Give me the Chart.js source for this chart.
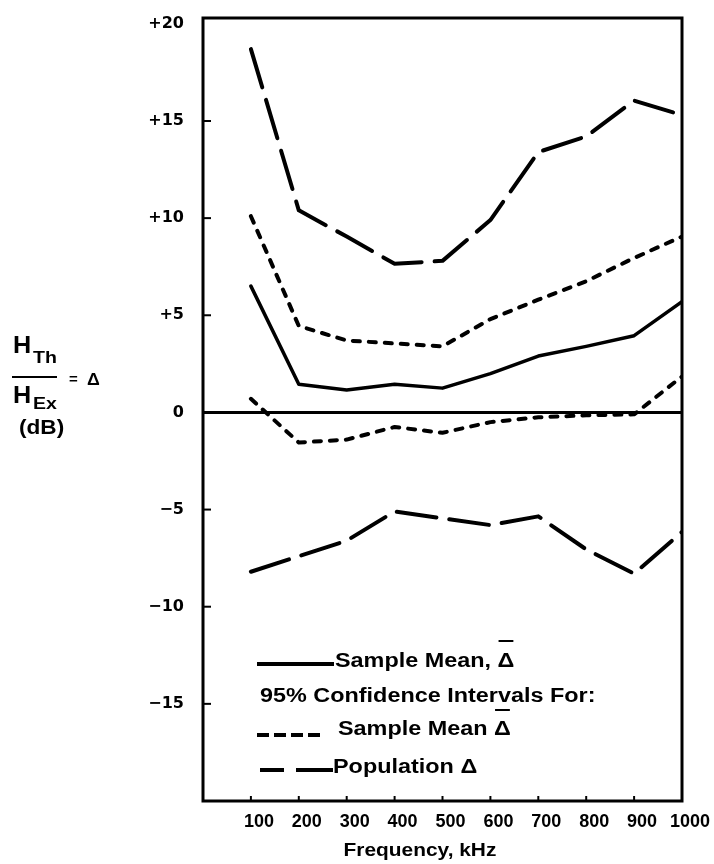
<!DOCTYPE html>
<html>
<head>
<meta charset="utf-8">
<title>Frequency, kHz</title>
<script src="https://cdn.jsdelivr.net/npm/chart.js@4.4.1/dist/chart.umd.min.js"></script>
<style>
    body { margin: 0; background: #fff; }
    canvas { display: block; }
</style>
</head>
<body>
<canvas id="graficoLinhas" width="714" height="864"></canvas>
<script>
//frequencias (kHz)
const frequencias = [100, 200, 300, 400, 500, 600, 700, 800, 900, 1000];

//media amostral
const mediaAmostral = [6.5, 1.45, 1.15, 1.45, 1.25, 2.0, 2.9, 3.4, 3.95, 5.7];

//intervalo 95% da media
const mediaSup = [10.1, 4.45, 3.7, 3.55, 3.4, 4.8, 5.8, 6.75, 7.95, 9.05];
const mediaInf = [0.7, -1.55, -1.4, -0.75, -1.05, -0.5, -0.25, -0.15, -0.1, 1.85];

//intervalo 95% da populacao
const populacaoSup = [18.7, 10.4, 9.05, 7.65, 7.8, 9.9, 13.4, 14.2, 16.05, 15.3];
const populacaoInf = [-8.2, -7.4, -6.6, -5.1, -5.45, -5.8, -5.35, -7.05, -8.3, -6.15];

//eixo y
const ticksY = [-15, -10, -5, 0, 5, 10, 15, 20];
const rotulosY = ["\u221215", "\u221210", "\u22125", "0", "+5", "+10", "+15", "+20"];

const fonte = "'Liberation Sans', Arial, Helvetica, sans-serif";
const fonteLarga = "'DejaVu Sans', Verdana, sans-serif";

function serie(valores, largura, tracos) {
    return {
        data: frequencias.map((f, i) => ({ x: f, y: valores[i] })),
        borderColor: "#000",
        borderWidth: largura,
        borderDash: tracos,
        borderCapStyle: "round",
        borderJoinStyle: "round",
        pointRadius: 0,
        fill: false,
        tension: 0
    };
}

//texto em negrito um pouco alargado
function texto(ctx, s, x, y, tam, esticar, centro) {
    ctx.save();
    ctx.font = "bold " + tam + "px " + fonte;
    ctx.textAlign = "left";
    ctx.textBaseline = "alphabetic";
    const w = ctx.measureText(s).width * esticar;
    ctx.translate(centro ? x - w / 2 : x, y);
    ctx.scale(esticar, 1);
    ctx.fillText(s, 0, 0);
    ctx.restore();
    return w;
}

//barra sobre o delta
function barra(ctx, x, y, w) {
    ctx.save();
    ctx.lineWidth = 2;
    ctx.setLineDash([]);
    ctx.beginPath();
    ctx.moveTo(x + 1, y);
    ctx.lineTo(x + w - 1, y);
    ctx.stroke();
    ctx.restore();
}

//moldura, marcas internas, legenda e titulos
const desenhos = {
    id: "desenhos",
    afterDraw(chart) {
        const ctx = chart.ctx;
        const a = chart.chartArea;
        const sx = chart.scales.x;
        const sy = chart.scales.y;
        ctx.save();
        ctx.strokeStyle = "#000";
        ctx.fillStyle = "#000";

        //moldura
        ctx.lineWidth = 3;
        ctx.strokeRect(a.left, a.top, a.right - a.left, a.bottom - a.top);

        //marcas
        ctx.lineWidth = 2;
        ticksY.forEach(v => {
            if (v === 0 || v === 20) return;
            const y = sy.getPixelForValue(v);
            ctx.beginPath();
            ctx.moveTo(a.left, y);
            ctx.lineTo(a.left + 8, y);
            ctx.stroke();
        });
        frequencias.forEach(f => {
            if (f === 1000) return;
            const x = sx.getPixelForValue(f);
            ctx.beginPath();
            ctx.moveTo(x, a.bottom);
            ctx.lineTo(x, a.bottom - 5);
            ctx.stroke();
        });

        //legenda
        const k = 1.17;
        ctx.lineCap = "butt";
        ctx.lineWidth = 4;

        ctx.setLineDash([]);
        ctx.beginPath();
        ctx.moveTo(257, 664);
        ctx.lineTo(334, 664);
        ctx.stroke();
        let w = texto(ctx, "Sample Mean, ", 335, 667, 20, k);
        let wd = texto(ctx, "\u0394", 335 + w, 667, 20, k);
        barra(ctx, 335 + w, 641, wd);

        texto(ctx, "95% Confidence Intervals For:", 260, 702, 20, k);

        ctx.setLineDash([12, 5]);
        ctx.beginPath();
        ctx.moveTo(257, 735);
        ctx.lineTo(321, 735);
        ctx.stroke();
        w = texto(ctx, "Sample Mean ", 338, 735, 20, k);
        wd = texto(ctx, "\u0394", 338 + w, 735, 20, k);
        barra(ctx, 338 + w, 710, wd);

        ctx.setLineDash([24, 12, 36, 0]);
        ctx.beginPath();
        ctx.moveTo(260, 770);
        ctx.lineTo(333, 770);
        ctx.stroke();
        ctx.setLineDash([]);
        texto(ctx, "Population \u0394", 333, 773, 20, k);

        //titulo x
        texto(ctx, "Frequency, kHz", 420, 856, 18, 1.16, true);

        //titulo y
        texto(ctx, "H", 13, 353, 24, 1.05);
        texto(ctx, "Th", 33, 363, 17, 1.15);
        texto(ctx, "H", 13, 403, 24, 1.05);
        texto(ctx, "Ex", 33, 409, 17, 1.15);
        ctx.lineWidth = 2;
        ctx.beginPath();
        ctx.moveTo(12, 377);
        ctx.lineTo(57, 377);
        ctx.stroke();
        texto(ctx, "=", 69, 384, 15, 1);
        texto(ctx, "\u0394", 87, 385, 17, 1.05);
        texto(ctx, "(dB)", 19, 434, 20, 1.13);

        ctx.restore();
    }
};

new Chart(document.getElementById("graficoLinhas"), {
    type: "line",
    data: {
        datasets: [
            serie(mediaAmostral, 3.5, []),
            serie(mediaSup, 4, [7, 9]),
            serie(mediaInf, 4, [7, 9]),
            serie(populacaoSup, 4, [40, 13]),
            serie(populacaoInf, 4, [40, 13])
        ]
    },
    options: {
        responsive: false,
        animation: false,
        layout: { padding: { top: 18, right: 32, left: 0, bottom: 0 } },
        plugins: {
            legend: { display: false },
            tooltip: { enabled: false }
        },
        scales: {
            x: {
                type: "linear",
                min: 0,
                max: 1000,
                afterBuildTicks: s => { s.ticks = frequencias.map(v => ({ value: v })); },
                afterFit: s => { s.height = 63; },
                grid: { display: false, drawTicks: false },
                border: { display: false },
                ticks: {
                    color: "#000",
                    padding: 10,
                    labelOffset: 8,
                    maxRotation: 0,
                    autoSkip: false,
                    callback: v => String(v),
                    font: { family: fonte, size: 18, weight: "bold" }
                }
            },
            y: {
                min: -20,
                max: 20.3,
                afterBuildTicks: s => { s.ticks = ticksY.map(v => ({ value: v })); },
                afterFit: s => {
                    s.width = 203;
                    s.paddingTop = 0;
                    s.paddingBottom = 0;
                },
                grid: {
                    drawTicks: false,
                    lineWidth: 3,
                    color: c => (c.tick && c.tick.value === 0) ? "#000" : "rgba(0,0,0,0)"
                },
                border: { display: false },
                ticks: {
                    color: "#000",
                    padding: 19,
                    callback: v => rotulosY[ticksY.indexOf(v)],
                    font: { family: fonteLarga, size: 16, weight: "bold" }
                }
            }
        }
    },
    plugins: [desenhos]
});
</script>
</body>
</html>
